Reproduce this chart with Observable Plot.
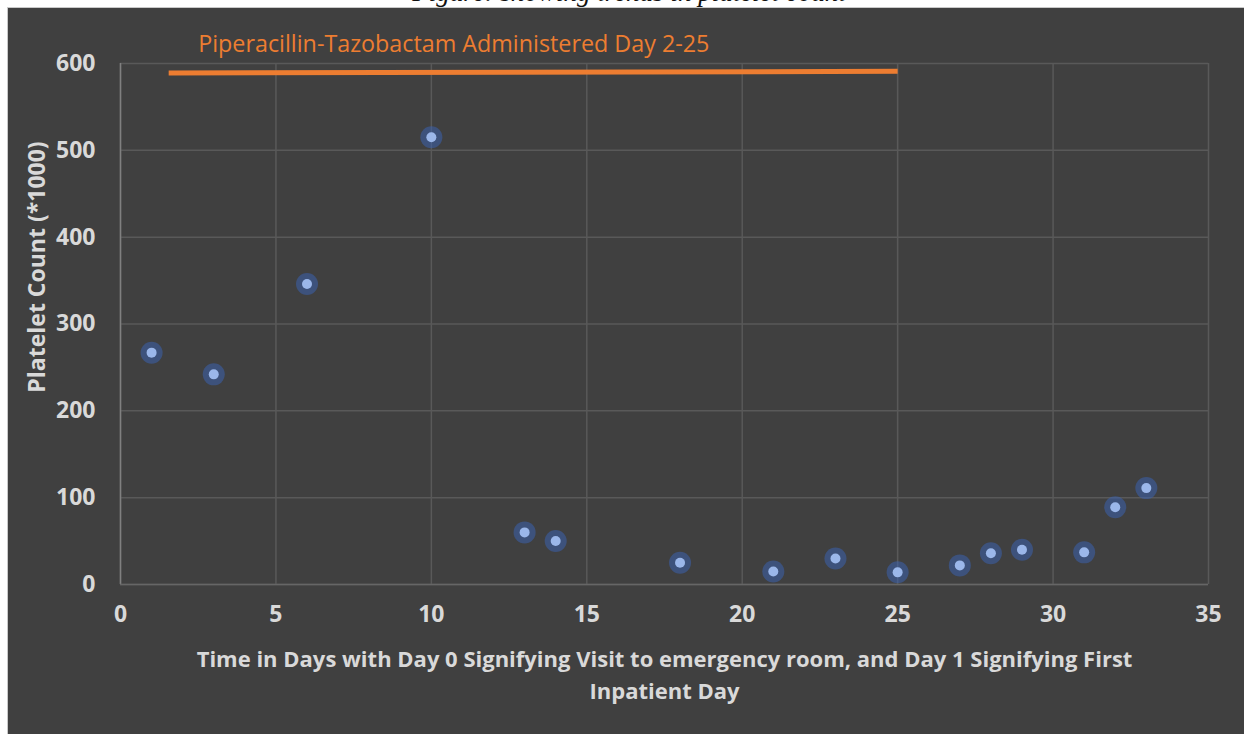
<!DOCTYPE html>
<html>
<head>
<meta charset="utf-8">
<script src="https://cdn.jsdelivr.net/npm/d3@7"></script>
<script src="https://cdn.jsdelivr.net/npm/@observablehq/plot@0.6"></script>
<style>
  html, body { margin: 0; padding: 0; background: #ffffff; width: 1244px; height: 734px; overflow: hidden; }
  #title { position: absolute; left: 14px; top: -23px; width: 1230px; text-align: center;
           font-family: "Liberation Serif", "DejaVu Serif", serif; font-style: italic; font-size: 27px; color: #111; }
  #panel { position: absolute; left: 7px; top: 7px; width: 1237px; height: 727px; background: #404040;
           border-top: 1px solid #c9c9c9; border-left: 1px solid #c9c9c9; box-sizing: border-box; }
  #chart { position: absolute; left: 0; top: 0; }
</style>
</head>
<body>
<div id="title">Figure: showing trends in platelet count</div>
<div id="panel"></div>
<div id="chart"></div>
<script>
// Data
const days     = [1, 3, 6, 10, 13, 14, 18, 21, 23, 25, 27, 28, 29, 31, 32, 33];
const platelets = [267, 242, 346, 515, 60, 50, 25, 15, 30, 14, 22, 36, 40, 37, 89, 111];

const xTicks = [0, 5, 10, 15, 20, 25, 30, 35];
const yTicks = [0, 100, 200, 300, 400, 500, 600];

// Antibiotic course bar (days 2-25)
const courseX = [1.55, 25];
const courseY = [589, 591];
const courseLabel = "Piperacillin-Tazobactam Administered Day 2-25";
const courseLabelPos = [2.5, 622];

const xTitle = "Time in Days with Day 0 Signifying Visit to emergency room, and Day 1 Signifying First\nInpatient Day";
const yTitle = "Platelet Count (*1000)";

const points = days.map((d, i) => ({day: d, count: platelets[i]}));
const course = courseX.map((d, i) => ({day: d, count: courseY[i]}));

const chart = Plot.plot({
  width: 1244,
  height: 734,
  marginLeft: 120,
  marginRight: 36,
  marginTop: 63,
  marginBottom: 150,
  style: {background: "transparent", color: "#d9d9d9", fontFamily: "'Open Sans', Lato, sans-serif", fontSize: "22px", fontWeight: "bold"},
  x: {domain: [0, 35]},
  y: {domain: [0, 600]},
  marks: [
    Plot.gridX(xTicks, {stroke: "#595959", strokeOpacity: 1, strokeWidth: 1.5}),
    Plot.gridY(yTicks, {stroke: "#595959", strokeOpacity: 1, strokeWidth: 1.5}),
    Plot.ruleX([0], {stroke: "#808080", strokeWidth: 1.5}),
    Plot.ruleY([0], {stroke: "#666666", strokeWidth: 1.5}),
    Plot.axisX(xTicks, {tickSize: 0, tickPadding: 21, label: null, fontSize: 23, fontWeight: "bold"}),
    Plot.axisY(yTicks, {tickSize: 0, tickPadding: 25, label: null, fontSize: 23, fontWeight: "bold"}),
    Plot.text([xTitle], {frameAnchor: "bottom", lineAnchor: "top", dy: 60, lineHeight: 1.45, fontSize: 22, fontWeight: "bold", fill: "#d9d9d9"}),
    Plot.text([yTitle], {frameAnchor: "left", textAnchor: "middle", rotate: -90, dx: -83, dy: -57, fontSize: 23, fontWeight: "bold", fill: "#d9d9d9"}),
    Plot.line(course, {x: "day", y: "count", stroke: "#ED7D31", strokeWidth: 5, strokeLinecap: "butt"}),
    Plot.text([courseLabel], {x: () => courseLabelPos[0], y: () => courseLabelPos[1], textAnchor: "start", fill: "#ED7D31", fontSize: 23.3, fontWeight: "normal"}),
    Plot.dot(points, {x: "day", y: "count", r: 11, fill: "#3a64b8", fillOpacity: 0.5, stroke: "none", ariaLabel: "glow"}),
    Plot.dot(points, {x: "day", y: "count", r: 5, fill: "#9bb7ea", stroke: "none"})
  ]
});

// soft glow under the markers
const svg = d3.select(chart);
const defs = svg.insert("defs", ":first-child");
defs.append("filter").attr("id", "glowBlur").attr("x", "-50%").attr("y", "-50%").attr("width", "200%").attr("height", "200%")
  .append("feGaussianBlur").attr("stdDeviation", 4.5);
svg.selectAll('g[aria-label="glow"]').attr("filter", "url(#glowBlur)");

document.getElementById("chart").appendChild(chart);
</script>
</body>
</html>
